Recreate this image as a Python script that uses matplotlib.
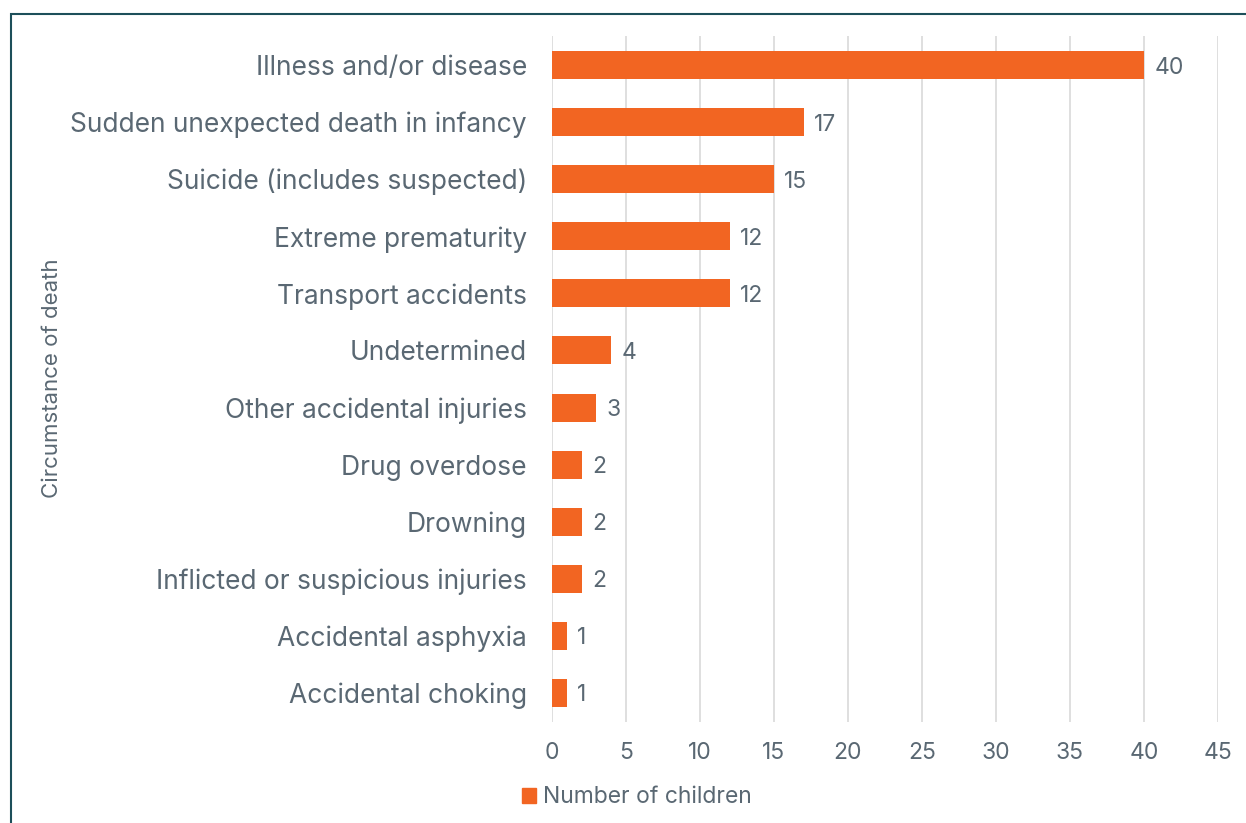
import matplotlib.pyplot as plt
from matplotlib.patches import Rectangle, Patch

categories = [
    "Illness and/or disease",
    "Sudden unexpected death in infancy",
    "Suicide (includes suspected)",
    "Extreme prematurity",
    "Transport accidents",
    "Undetermined",
    "Other accidental injuries",
    "Drug overdose",
    "Drowning",
    "Inflicted or suspicious injuries",
    "Accidental asphyxia",
    "Accidental choking",
]
counts = [40, 17, 15, 12, 12, 4, 3, 2, 2, 2, 1, 1]
x_ticks = [0, 5, 10, 15, 20, 25, 30, 35, 40, 45]

BAR = '#F26522'
TEXT = '#5a6873'
GRID = '#d9d9d9'

plt.rcParams['font.family'] = ['Inter', 'DejaVu Sans']

fig = plt.figure(figsize=(12.46, 8.23), dpi=100)
ax = fig.add_axes([0.443, 0.1233, 0.5345, 0.8324])

ypos = list(range(len(categories)))
ax.barh(ypos, counts, height=0.49, color=BAR, zorder=3)
for y, v in zip(ypos, counts):
    ax.text(v + 0.7, y, str(v), va='center_baseline', ha='left', fontsize=16.5, color=TEXT)

ax.set_ylim(len(categories) - 0.5, -0.5)
ax.set_xlim(0, 45)
ax.set_yticks(ypos)
ax.set_yticklabels(categories, fontsize=19, color=TEXT)
ax.set_xticks(x_ticks)
ax.set_xticklabels([str(t) for t in x_ticks], fontsize=16.5, color=TEXT)
ax.tick_params(axis='y', length=0, pad=18)
ax.tick_params(axis='x', length=0, pad=15)
ax.grid(axis='x', color=GRID, linewidth=1.2, zorder=0)
for s in ax.spines.values():
    s.set_visible(False)

fig.text(0.042, 0.54, "Circumstance of death", rotation=90, va='center', ha='center',
         fontsize=16, color=TEXT)

fig.legend(handles=[Patch(color=BAR, label="Number of children")], loc='center left',
           bbox_to_anchor=(0.419, 0.031), frameon=False, fontsize=16.5,
           labelcolor=TEXT, handlelength=0.6, handleheight=0.6, handletextpad=0.3,
           borderpad=0, borderaxespad=0)

# outer frame
fig.patches.append(Rectangle((11 / 1246, -0.05), 1.2, 1 - 14 / 823 + 0.05,
                             transform=fig.transFigure, fill=False,
                             edgecolor='#1d4f5a', linewidth=1.5))

fig.savefig('out.png', dpi=100)
